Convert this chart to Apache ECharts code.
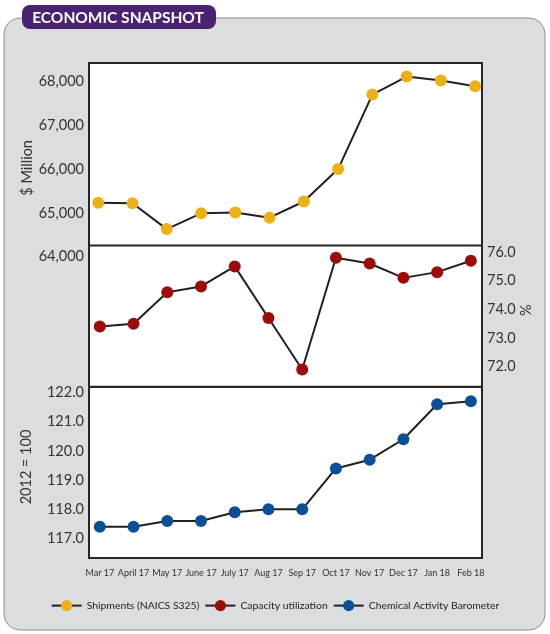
<!DOCTYPE html>
<html><head><meta charset="utf-8">
<script src="https://cdn.jsdelivr.net/npm/echarts@6/dist/echarts.min.js"></script>
<style>html,body{margin:0;padding:0;background:#fff}#c{width:550px;height:634px}</style>
</head><body><div id="c"></div>
<script>
const months = ['Mar 17','April 17','May 17','June 17','July 17','Aug 17','Sep 17','Oct 17','Nov 17','Dec 17','Jan 18','Feb 18'];
const shipments = [65230,65220,64630,64990,65010,64890,65260,66000,67700,68110,68020,67890];
const capacity = [73.4,73.5,74.6,74.8,75.5,73.7,71.9,75.8,75.6,75.1,75.3,75.7];
const cab = [117.4,117.4,117.6,117.6,117.9,118.0,118.0,119.4,119.7,120.4,121.6,121.7];
const shipTicks = [64000,65000,66000,67000,68000];
const capTicks = [72,73,74,75,76];
const cabTicks = [117,118,119,120,121,122];
const seriesNames = ['Shipments (NAICS S325)','Capacity utilization','Chemical Activity Barometer'];
const seriesColors = ['#ecb11a','#9b0c0c','#0b4f97'];

const idx = months.map((_, i) => i);
const FONT = 'Lato';
const LABEL = '#333';
const gridBase = {left: 89, width: 393, show: true, backgroundColor: '#fff', borderColor: '#262626', borderWidth: 2};
const noLines = {axisLine: {show: false}, axisTick: {show: false}, splitLine: {show: false}};

function yAxisOf(grid, min, max, ticks, fmt, pos, name, gap, pad) {
  return Object.assign({
    gridIndex: grid, type: 'value', min: min, max: max, position: pos,
    axisLabel: {customValues: ticks, formatter: fmt, fontSize: 14.5, color: LABEL, fontFamily: FONT, margin: 5},
    name: name, nameLocation: 'middle', nameGap: gap, nameRotate: 90, nameMoveOverlap: false,
    nameTextStyle: {fontSize: 14.5, color: LABEL, fontFamily: FONT, padding: pad}
  }, noLines);
}

const chart = echarts.init(document.getElementById('c'));
chart.setOption({
  animation: false,
  backgroundColor: '#fff',
  graphic: [
    {type: 'rect', z: -1, shape: {x: 4, y: 18, width: 541, height: 612, r: 16}, style: {fill: '#dcdddf', stroke: '#8e8e8e', lineWidth: 1}},
    {type: 'rect', z: 100, shape: {x: 22, y: 5, width: 194, height: 24, r: 8}, style: {fill: '#4b2271'}},
    {type: 'text', z: 101, x: 118, y: 17.5, style: {text: 'ECONOMIC SNAPSHOT', fill: '#fff', fontFamily: FONT, fontWeight: 'bold', fontSize: 15.5, align: 'center', verticalAlign: 'middle'}}
  ],
  grid: [
    Object.assign({top: 63, height: 193.7}, gridBase),
    Object.assign({top: 245.5, height: 141.2}, gridBase),
    Object.assign({top: 387, height: 171}, gridBase)
  ],
  xAxis: [
    {gridIndex: 0, type: 'value', min: -0.27, max: 11.2, show: false},
    {gridIndex: 1, type: 'value', min: -0.32, max: 11.33, show: false},
    Object.assign({gridIndex: 2, type: 'value', min: -0.32, max: 11.33,
      axisLabel: {customValues: idx, formatter: v => months[v], fontSize: 9, color: LABEL, fontFamily: FONT, margin: 11}}, noLines)
  ],
  yAxis: [
    yAxisOf(0, 64000, 68420, shipTicks, v => v.toLocaleString('en-US'), 'left', '$ Million', 54, [0, 16, 0, 0]),
    yAxisOf(1, 71.3, 76.23, capTicks, v => v.toFixed(1), 'right', '%', 37, [0, 0, 0, 12]),
    yAxisOf(2, 116.33, 122.19, cabTicks, v => v.toFixed(1), 'left', '2012 = 100', 55, [0, 0, 0, 11])
  ],
  legend: {
    top: 595, left: 'center', itemWidth: 30, itemHeight: 14, itemGap: 5,
    textStyle: {fontSize: 10.4, color: '#222', fontFamily: FONT},
    data: seriesNames
  },
  series: [shipments, capacity, cab].map((vals, s) => ({
    name: seriesNames[s], type: 'line', xAxisIndex: s, yAxisIndex: s,
    data: idx.map(i => [i, vals[i]]),
    symbol: 'circle', symbolSize: 12, z: 3,
    lineStyle: {color: '#231f20', width: 2},
    itemStyle: {color: seriesColors[s], borderWidth: 0}
  }))
});
</script></body></html>
